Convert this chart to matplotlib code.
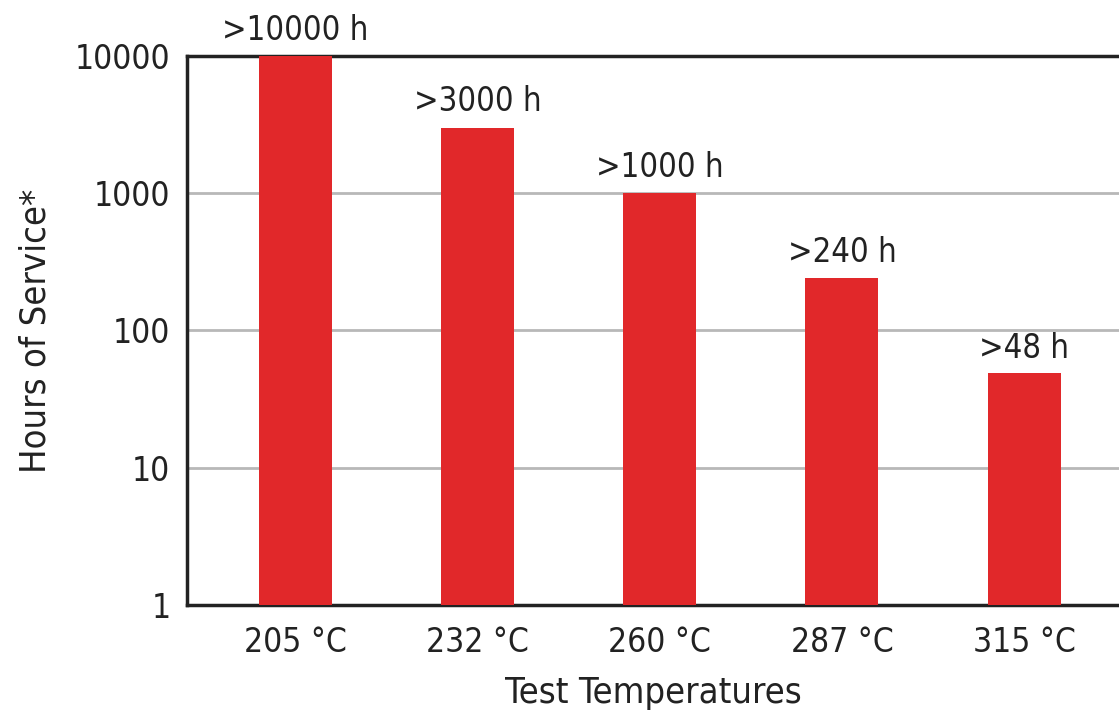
import matplotlib
matplotlib.use("Agg")
import matplotlib.pyplot as plt
from matplotlib.ticker import FixedLocator, FixedFormatter

plt.rcParams['font.family'] = ['DejaVu Sans']
plt.rcParams['font.stretch'] = 'condensed'

temps = ['205 °C', '232 °C', '260 °C', '287 °C', '315 °C']
hours = [10000, 3000, 1000, 240, 48]
labels = ['>10000 h', '>3000 h', '>1000 h', '>240 h', '>48 h']
yticks = [1, 10, 100, 1000, 10000]

fig = plt.figure(figsize=(11.19, 7.16), dpi=100)
ax = fig.add_axes([187 / 1119, 1 - 605 / 716, (1119 - 187) / 1119, (605 - 56) / 716])

x = range(len(temps))
ax.bar(x, hours, width=0.4, color='#e1282a', zorder=3, bottom=1)
for i, (h, lab) in enumerate(zip(hours, labels)):
    ax.text(i, h * 1.17, lab, ha='center', va='bottom', fontsize=23.5,
            color='#222222', fontstretch='condensed')

ax.set_yscale('log')
ax.set_ylim(1, 10000)
ax.set_xlim(-0.593, 4.52)
ax.yaxis.set_major_locator(FixedLocator(yticks))
ax.yaxis.set_major_formatter(FixedFormatter([str(t) for t in yticks]))
ax.yaxis.set_minor_locator(FixedLocator([]))
ax.set_xticks(list(x))
ax.set_xticklabels(temps)
ax.tick_params(axis='both', length=0, labelsize=24, colors='#222222')
ax.tick_params(axis='y', pad=12)
ax.tick_params(axis='x', pad=15)
ax.grid(axis='y', color='#b8b8b8', linewidth=2, zorder=0)

for s in ['left', 'bottom', 'top']:
    ax.spines[s].set_linewidth(2.5)
    ax.spines[s].set_color('#222222')
ax.spines['right'].set_visible(False)

ax.set_xlabel('Test Temperatures', fontsize=26, color='#222222', labelpad=12)
ax.set_ylabel('Hours of Service*', fontsize=26, color='#222222', labelpad=16)

fig.savefig('out.png', dpi=100)
